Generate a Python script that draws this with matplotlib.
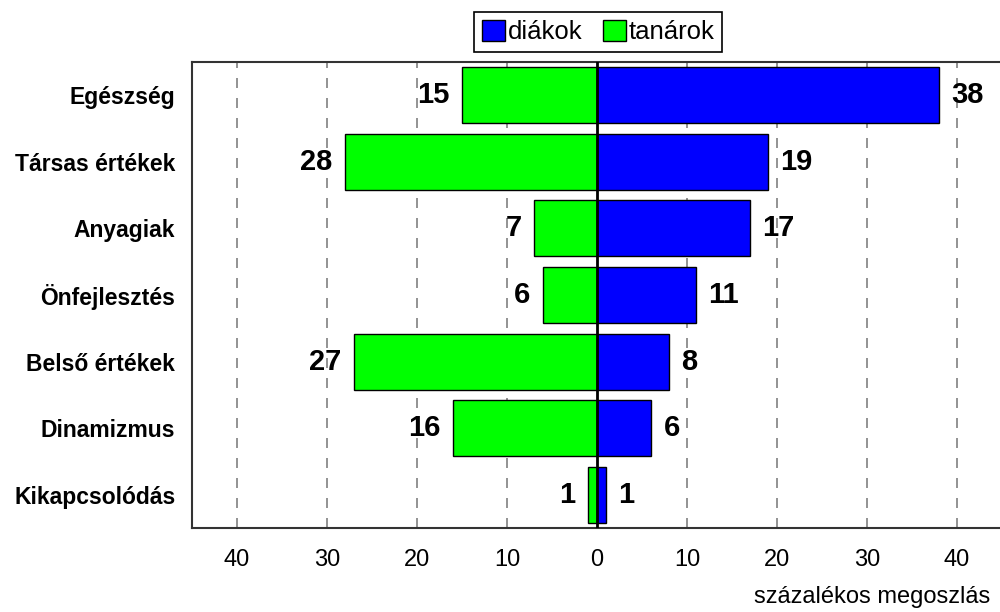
import matplotlib
matplotlib.use("Agg")
import matplotlib.pyplot as plt
from matplotlib.patches import Patch

plt.rcParams['font.family'] = ['Liberation Sans', 'DejaVu Sans']

kategoriak = ["Egészség", "Társas értékek", "Anyagiak", "Önfejlesztés",
              "Belső értékek", "Dinamizmus", "Kikapcsolódás"]
diakok = [38, 19, 17, 11, 8, 6, 1]
tanarok = [15, 28, 7, 6, 27, 16, 1]
tick_ertekek = [-40, -30, -20, -10, 0, 10, 20, 30, 40]
tick_cimkek = ["40", "30", "20", "10", "0", "10", "20", "30", "40"]

fig = plt.figure(figsize=(10, 6.12), dpi=100)
ax = fig.add_axes([0.192, 0.1373, 0.808, 0.7614])

y = list(range(len(kategoriak)))
b1 = ax.barh(y, diakok, height=0.84, color="#0000ff", edgecolor="black", linewidth=1, zorder=3)
b2 = ax.barh(y, [-v for v in tanarok], height=0.84, color="#00ff00", edgecolor="black", linewidth=1, zorder=3)

# értékek a sávok mellett
for i, v in enumerate(diakok):
    ax.annotate(str(v), (v, i), xytext=(9, 0), textcoords="offset points",
                ha="left", va="center", fontsize=21, fontweight="bold")
for i, v in enumerate(tanarok):
    ax.annotate(str(v), (-v, i), xytext=(-9, 0), textcoords="offset points",
                ha="right", va="center", fontsize=21, fontweight="bold")

ax.set_xlim(-45, 44.78)
ax.set_ylim(6.5, -0.5)
ax.set_yticks(y)
ax.set_yticklabels(kategoriak, fontsize=16.5, fontweight="bold")
ax.set_xticks(tick_ertekek)
ax.set_xticklabels(tick_cimkek, fontsize=17)
ax.tick_params(axis="both", length=0)
ax.tick_params(axis="x", pad=15)
ax.tick_params(axis="y", pad=12)

for x in tick_ertekek:
    if x != 0:
        ax.axvline(x, color="#808080", linestyle=(0, (6, 6)), linewidth=1.2, zorder=1)
ax.axvline(0, color="black", linewidth=2, zorder=4)

for s in ["left", "bottom", "top"]:
    ax.spines[s].set_linewidth(1.5)
    ax.spines[s].set_color("#333333")
ax.spines["right"].set_visible(False)

fig.text(0.99, 1 - 597 / 612, "százalékos megoszlás", ha="right", va="center", fontsize=17)

kezelok = [Patch(facecolor="#0000ff", edgecolor="black"),
           Patch(facecolor="#00ff00", edgecolor="black")]
leg = fig.legend(kezelok, ["diákok", "tanárok"], loc="center",
                 bbox_to_anchor=(0.598, 1 - 32 / 612), ncol=2, fontsize=18.5,
                 handlelength=0.9, handleheight=0.9, handletextpad=0.1,
                 columnspacing=0.8, borderpad=0.3, borderaxespad=0,
                 fancybox=False, framealpha=1, edgecolor="black")
leg.get_frame().set_linewidth(1.2)

fig.savefig("out.png", dpi=100)
